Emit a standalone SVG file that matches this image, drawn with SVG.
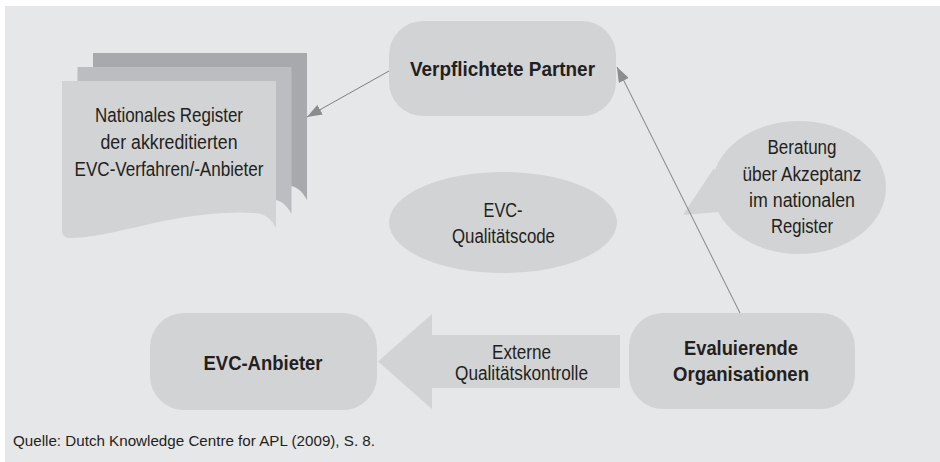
<svg xmlns="http://www.w3.org/2000/svg" width="940" height="462" viewBox="0 0 940 462">
  <style>
    .bg { fill: #e6e7e8; }
    .shape { fill: #d2d3d5; }
    .t { font-family: "Liberation Sans", Arial, sans-serif; font-size: 19.5px; fill: #231f20; text-anchor: middle; }
    .b { font-family: "Liberation Sans", Arial, sans-serif; font-size: 21px; font-weight: bold; fill: #231f20; text-anchor: middle; }
    .src { font-family: "Liberation Sans", Arial, sans-serif; font-size: 15px; fill: #231f20; }
    .conn { stroke: #7f8083; stroke-width: 1; fill: none; marker-end: url(#arrow); }
  </style>
  <defs>
    <marker id="arrow" viewBox="0 0 15 11" refX="15" refY="5.5" markerWidth="15" markerHeight="11" markerUnits="userSpaceOnUse" orient="auto">
      <path d="M0,0 L15,5.5 L0,11 Z" fill="#8a8c8e"/>
    </marker>
    <path id="sheet" d="M62,81 H276 V228 C271,219 266,214 255,213 C225,211 190,215 150,224 C115,232 90,238 70,238 Q62,238 62,230 Z"/>
  </defs>

  <rect class="bg" x="5" y="6" width="935" height="456"/>

  <g id="register">
    <use href="#sheet" transform="translate(31,-28)" fill="#a8a9ac"/>
    <use href="#sheet" transform="translate(15.5,-14)" fill="#bcbdc0"/>
    <use href="#sheet" fill="#d2d3d5"/>
    <text class="t" x="169" y="122" textLength="148" lengthAdjust="spacingAndGlyphs">Nationales Register</text>
    <text class="t" x="169" y="149" textLength="137" lengthAdjust="spacingAndGlyphs">der akkreditierten</text>
    <text class="t" x="169" y="176" textLength="189" lengthAdjust="spacingAndGlyphs">EVC-Verfahren/-Anbieter</text>
  </g>

  <g id="partner">
    <rect class="shape" x="389" y="21" width="227" height="95" rx="34"/>
    <text class="b" x="502.5" y="76" textLength="185" lengthAdjust="spacingAndGlyphs">Verpflichtete Partner</text>
  </g>

  <g id="qualitaetscode">
    <ellipse class="shape" cx="503" cy="222.5" rx="114" ry="50.5"/>
    <text class="t" x="503" y="217" textLength="39" lengthAdjust="spacingAndGlyphs">EVC-</text>
    <text class="t" x="503.5" y="243" textLength="103" lengthAdjust="spacingAndGlyphs">Qualitätscode</text>
  </g>

  <g id="beratung">
    <polygon class="shape" points="714,168 683,215 730,211"/>
    <ellipse class="shape" cx="799" cy="187.5" rx="87" ry="66.5"/>
    <text class="t" x="802" y="154" textLength="69" lengthAdjust="spacingAndGlyphs">Beratung</text>
    <text class="t" x="802" y="180.5" textLength="119" lengthAdjust="spacingAndGlyphs">über Akzeptanz</text>
    <text class="t" x="802" y="207" textLength="106" lengthAdjust="spacingAndGlyphs">im nationalen</text>
    <text class="t" x="802" y="233" textLength="62" lengthAdjust="spacingAndGlyphs">Register</text>
  </g>

  <g id="anbieter">
    <rect class="shape" x="150" y="313" width="227" height="97" rx="34"/>
    <text class="b" x="263" y="370" textLength="119" lengthAdjust="spacingAndGlyphs">EVC-Anbieter</text>
  </g>

  <g id="evaluierende">
    <rect class="shape" x="629" y="313" width="226" height="96" rx="34"/>
    <text class="b" x="741" y="355" textLength="114" lengthAdjust="spacingAndGlyphs">Evaluierende</text>
    <text class="b" x="741" y="381" textLength="136" lengthAdjust="spacingAndGlyphs">Organisationen</text>
  </g>

  <g id="connectors">
    <line class="conn" x1="389" y1="71" x2="307" y2="117"/>
    <line class="conn" x1="740" y1="313" x2="617" y2="67"/>
    <g id="qualitaetskontrolle">
      <polygon class="shape" points="378,361.5 432,314 432,335 620,335 620,388 432,388 432,409"/>
      <text class="t" x="521.5" y="359" textLength="59" lengthAdjust="spacingAndGlyphs">Externe</text>
      <text class="t" x="521.5" y="380" textLength="133" lengthAdjust="spacingAndGlyphs">Qualitätskontrolle</text>
    </g>
  </g>

  <text class="src" x="13" y="446" textLength="362" lengthAdjust="spacingAndGlyphs">Quelle: Dutch Knowledge Centre for APL (2009), S. 8.</text>
</svg>
